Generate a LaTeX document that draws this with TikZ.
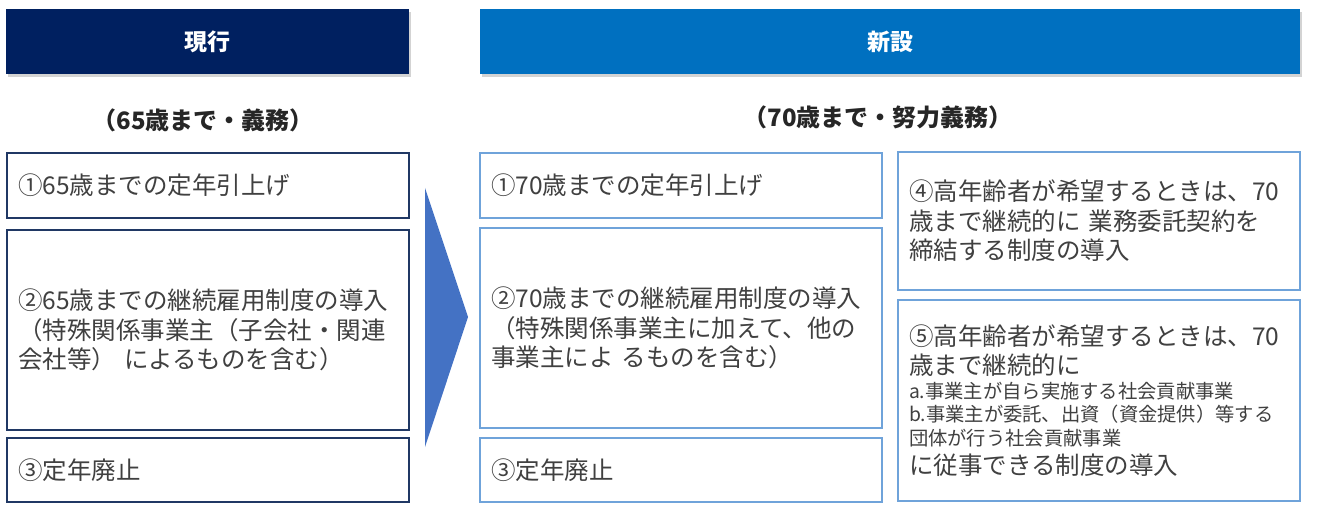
\documentclass[tikz,border=0pt]{standalone}
\usepackage{fontspec}
\setmainfont{Noto Sans CJK JP}
\usetikzlibrary{shadows}
\definecolor{navy}{HTML}{002060}
\definecolor{hblue}{HTML}{0070C0}
\definecolor{oldline}{HTML}{203864}
\definecolor{newline}{HTML}{6FA3DA}
\definecolor{arrowcol}{HTML}{4472C4}
\definecolor{txt}{HTML}{404040}
\definecolor{subtxt}{HTML}{262626}
\begin{document}
\begin{tikzpicture}[x=1pt,y=-1pt,
  header/.style={fill=#1, text=white, font=\fontsize{23}{27}\selectfont\bfseries,
    inner sep=0pt, minimum height=65pt,
    drop shadow={shadow xshift=2pt, shadow yshift=-3pt, opacity=0.35}},
  subtitle/.style={text=subtxt, font=\fontsize{24}{28}\selectfont\bfseries, inner sep=0pt},
  itembox/.style={draw=#1, line width=1.6pt, fill=white, inner xsep=11pt, inner ysep=0pt,
    text width=380pt, align=left, text=txt,
    font=\fontsize{24.5}{29.5}\selectfont},
  oldbox/.style={itembox=oldline},
  newbox/.style={itembox=newline},
]
\useasboundingbox (0,0) rectangle (1320,518);

% headers
\node[header=navy, minimum width=403pt] (hcur) at (207.5,41.5) {現行};
\node[header=hblue, minimum width=820pt] (hnew) at (890,41.5) {新設};

% subtitles
\node[subtitle] (scur) at (203,120) {（65歳まで・義務）};
\node[subtitle] (snew) at (878,117) {（70歳まで・努力義務）};

% current boxes
\node[oldbox, minimum height=65pt] (l1) at (208,185.5) {①65歳までの定年引上げ};
\node[oldbox, minimum height=200pt] (l2) at (208,330) {②65歳までの継続雇用制度の導入\\（特殊関係事業主（子会社・関連\\会社等） によるものを含む）};
\node[oldbox, minimum height=64pt] (l3) at (208,470) {③定年廃止};

% arrow
\coordinate (at) at (425,188);
\coordinate (ap) at (468,317);
\coordinate (ab) at (425,447);
\fill[arrowcol] (at) -- (ap) -- (ab) -- cycle;

% new boxes
\node[newbox, minimum height=65pt] (m1) at (681,185.5) {①70歳までの定年引上げ};
\node[newbox, minimum height=200pt] (m2) at (681,328) {②70歳までの継続雇用制度の導入\\（特殊関係事業主に加えて、他の\\事業主によ るものを含む）};
\node[newbox, minimum height=64pt] (m3) at (681,470) {③定年廃止};

\node[newbox, minimum height=138pt] (r4) at (1099,221) {④高年齢者が希望するときは、70\\歳まで継続的に 業務委託契約を\\締結する制度の導入};
\node[newbox, minimum height=201pt] (r5) at (1099,400.5) {%
  {\fontsize{24.5}{29}\selectfont ⑤高年齢者が希望するときは、70\par 歳まで継続的に\par}%
  {\fontsize{19.3}{23.5}\selectfont a.事業主が自ら実施する社会貢献事業\par b.事業主が委託、出資（資金提供）等する\par 団体が行う社会貢献事業\par}%
  {\fontsize{24.5}{29}\selectfont に従事できる制度の導入\par}};
\end{tikzpicture}
\end{document}
